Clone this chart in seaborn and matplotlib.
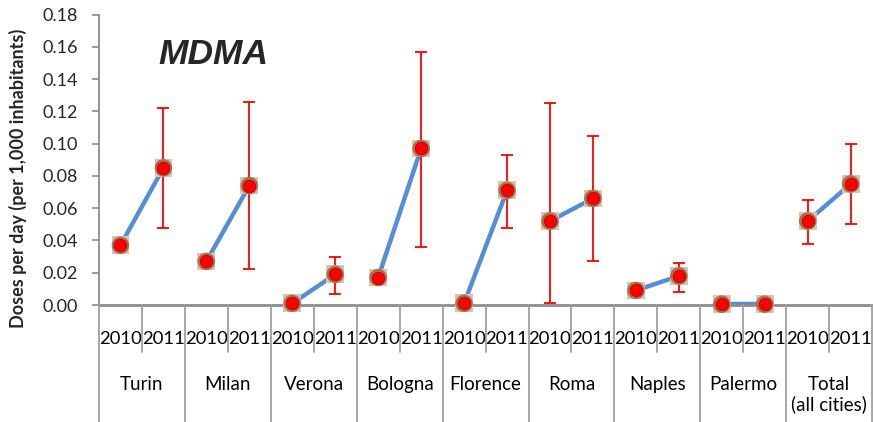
import numpy as np
import pandas as pd
import matplotlib
matplotlib.use('Agg')
import matplotlib.pyplot as plt
import matplotlib.transforms as mtransforms
from matplotlib.lines import Line2D
import seaborn as sns

sns.set_theme(style="white")
plt.rcParams['font.family'] = ['Lato', 'DejaVu Sans']

# data
cities = ['Turin', 'Milan', 'Verona', 'Bologna', 'Florence', 'Roma', 'Naples', 'Palermo', 'Total\n(all cities)']
years = ['2010', '2011']
dose_2010 = [0.037, 0.027, 0.001, 0.017, 0.001, 0.052, 0.009, 0.0005, 0.052]
dose_2011 = [0.085, 0.074, 0.019, 0.097, 0.071, 0.066, 0.018, 0.0005, 0.075]
low_2010 = [np.nan, np.nan, np.nan, np.nan, np.nan, 0.001, np.nan, np.nan, 0.038]
high_2010 = [np.nan, np.nan, np.nan, np.nan, np.nan, 0.125, np.nan, np.nan, 0.065]
low_2011 = [0.048, 0.022, 0.007, 0.036, 0.048, 0.027, 0.008, np.nan, 0.050]
high_2011 = [0.122, 0.126, 0.030, 0.157, 0.093, 0.105, 0.026, np.nan, 0.100]

rows = []
for i, c in enumerate(cities):
    rows.append(dict(city=c, year='2010', dose=dose_2010[i], low=low_2010[i], high=high_2010[i]))
    rows.append(dict(city=c, year='2011', dose=dose_2011[i], low=low_2011[i], high=high_2011[i]))
df = pd.DataFrame(rows)
df['pos'] = np.arange(len(df))

fig = plt.figure(figsize=(8.73, 4.22), dpi=100)
ax = fig.add_axes([99 / 873, 1 - 305 / 422, 1 - 99 / 873 - 0.001, (305 - 14.5) / 422])

sns.lineplot(data=df, x='pos', y='dose', units='city', estimator=None, color='#558ED5',
             linewidth=3.2, ax=ax, legend=False, zorder=2)

eb = df.dropna(subset=['low'])
ax.errorbar(eb['pos'], eb['dose'], yerr=[eb['dose'] - eb['low'], eb['high'] - eb['dose']],
            fmt='none', ecolor='#FF0000', elinewidth=1.3, capsize=4.5, capthick=1.3, zorder=3)

# marker with brownish halo
sns.scatterplot(data=df, x='pos', y='dose', marker='s', s=165, color='#DDC2AC', edgecolor='none',
                ax=ax, zorder=4, clip_on=False, legend=False)
sns.scatterplot(data=df, x='pos', y='dose', marker='o', s=160, color='#A8714F', edgecolor='none',
                ax=ax, zorder=5, clip_on=False, legend=False)
sns.scatterplot(data=df, x='pos', y='dose', marker='o', s=80, color='#FF0000', edgecolor='#C00000',
                linewidth=0.6, ax=ax, zorder=6, clip_on=False, legend=False)

ax.set_xlim(-0.5, len(df) - 0.5)
ax.set_ylim(0, 0.18)
ax.set_yticks(np.arange(0, 0.181, 0.02))
ax.set_yticklabels([f'{v:.2f}' for v in np.arange(0, 0.181, 0.02)], fontsize=13)
ax.set_xticks([])
ax.set_xlabel('')
ax.set_ylabel('')
ax.tick_params(axis='y', direction='out', length=5, width=1.2, color='#8C8C8C', pad=10, left=True)
for s in ['top', 'right']:
    ax.spines[s].set_visible(False)
ax.spines['left'].set_color('#8C8C8C')
ax.spines['left'].set_linewidth(1.3)
ax.spines['bottom'].set_color('#8C8C8C')
ax.spines['bottom'].set_linewidth(2)

# category axis below
trans = mtransforms.blended_transform_factory(ax.transData, fig.transFigure)
y_axis = 1 - 305 / 422
for p, yr in zip(df['pos'], df['year']):
    ax.text(p, 1 - 339 / 422, yr, transform=trans, ha='center', va='center', fontsize=13.3, color='black')
for i, c in enumerate(cities):
    ax.text(2 * i + 0.5, 1 - 376 / 422, c, transform=trans, ha='center', va='top', fontsize=13.5,
            color='black', linespacing=1.15)
for b in np.arange(-0.5, len(df), 1.0):
    group_edge = (b + 0.5) % 2 == 0
    y_end = 0 if group_edge else 1 - 352 / 422
    fig.add_artist(Line2D([b, b], [y_axis, y_end], transform=trans, color='#A0A0A0',
                          linewidth=1.3, clip_on=False))

fig.text(158 / 873, 1 - 54 / 422, 'MDMA', fontsize=25.5, fontweight='bold', fontstyle='italic',
         family=['Liberation Sans', 'DejaVu Sans'], ha='left', va='center')
fig.text(18 / 873, 1 - 178 / 422, 'Doses per day (per 1,000 inhabitants)', rotation=90,
         fontsize=13, fontweight='bold', ha='center', va='center')

fig.savefig('out.png', dpi=100)
